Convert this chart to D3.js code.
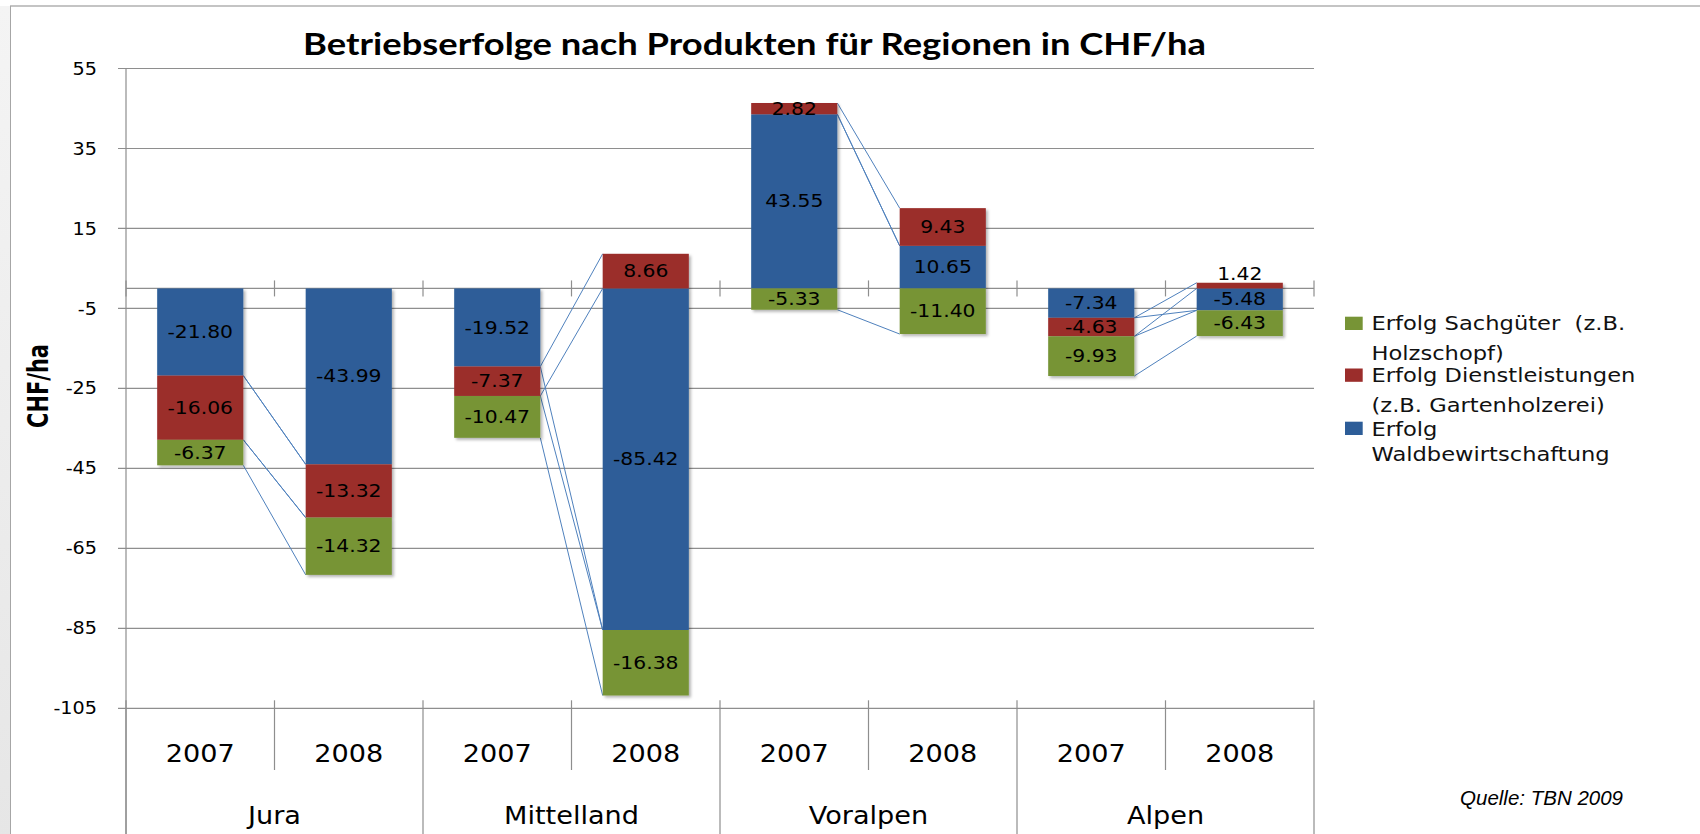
<!DOCTYPE html>
<html lang="de">
<head>
<meta charset="utf-8">
<title>Betriebserfolge nach Produkten für Regionen in CHF/ha</title>
<script src="https://cdn.jsdelivr.net/npm/d3@7"></script>
<style>
  html, body { margin: 0; padding: 0; background: #fff; }
  svg { display: block; }
  text { white-space: pre; }
</style>
</head>
<body>
<script>
// data
const regions = ["Jura", "Mittelland", "Voralpen", "Alpen"];
const years = ["2007", "2008"];
const waldbewirtschaftung = [-21.80, -43.99, -19.52, -85.42, 43.55, 10.65, -7.34, -5.48];
const dienstleistungen    = [-16.06, -13.32, -7.37, 8.66, 2.82, 9.43, -4.63, 1.42];
const sachgueter          = [-6.37, -14.32, -10.47, -16.38, -5.33, -11.40, -9.93, -6.43];
const seriesKeys = ["wald", "dienst", "sach"];
const legendLines = {
  sach: ["Erfolg Sachgüter  (z.B.", "Holzschopf)"],
  dienst: ["Erfolg Dienstleistungen", "(z.B. Gartenholzerei)"],
  wald: ["Erfolg", "Waldbewirtschaftung"]
};
const yTicks = [55, 35, 15, -5, -25, -45, -65, -85, -105];

const colors = { wald: "#2d5d98", dienst: "#9b2d2b", sach: "#779436" };
const gridColor = "#8e8e8e";
const sx = 1.13;   // the reference is stretched horizontally
const W = 1700, H = 834;

// rows for the stack
const rows = [];
regions.forEach((r, ri) => years.forEach((yr, yi) => {
  const i = ri * years.length + yi;
  rows.push({ idx: i, region: r, year: yr,
    wald: waldbewirtschaftung[i], dienst: dienstleistungen[i], sach: sachgueter[i] });
}));

const stacked = d3.stack().keys(seriesKeys).offset(d3.stackOffsetDiverging)(rows);

const x = d3.scaleBand().domain(d3.range(rows.length)).range([126, 1314]);
const y = d3.scaleLinear().domain([-105, 55]).range([708.3, 68.5]);
const barW = x.bandwidth() * 0.58;
const barX = i => x(i) + (x.bandwidth() - barW) / 2;

const svg = d3.select("body").append("svg")
  .attr("width", W).attr("height", H);

const defs = svg.append("defs");
const grad = defs.append("linearGradient").attr("id", "side")
  .attr("x1", 0).attr("y1", 0).attr("x2", 0).attr("y2", 1);
grad.append("stop").attr("offset", 0).attr("stop-color", "#f4f4f4");
grad.append("stop").attr("offset", 1).attr("stop-color", "#e6e6e6");
defs.append("filter").attr("id", "shadow")
  .attr("x", "-10%").attr("y", "-10%").attr("width", "130%").attr("height", "130%")
  .append("feDropShadow").attr("dx", 2).attr("dy", 2)
  .attr("stdDeviation", 1.5).attr("flood-color", "#000").attr("flood-opacity", 0.3);

// slide frame
svg.append("rect").attr("x", 0).attr("y", 6).attr("width", 10).attr("height", H)
  .attr("fill", "url(#side)");
svg.append("line").attr("x1", 10).attr("x2", W).attr("y1", 6).attr("y2", 6)
  .attr("stroke", "#c4c4c4").attr("stroke-width", 2);
svg.append("line").attr("x1", 10.5).attr("x2", 10.5).attr("y1", 6).attr("y2", H)
  .attr("stroke", "#a6a6a6").attr("stroke-width", 1);

// helper: horizontally stretched text
function sText(g, str, tx, ty, size, anchor, extra) {
  const t = g.append("text")
    .attr("transform", `translate(${tx},${ty}) scale(${sx},1)`)
    .attr("text-anchor", anchor || "middle")
    .attr("font-family", "DejaVu Sans, Verdana, sans-serif")
    .attr("font-size", size)
    .attr("fill", "#000")
    .text(str);
  if (extra) extra(t);
  return t;
}

// gridlines + y ticks
const grid = svg.append("g");
yTicks.forEach(v => {
  grid.append("line").attr("x1", 118).attr("x2", 1314)
    .attr("y1", y(v)).attr("y2", y(v))
    .attr("stroke", gridColor).attr("stroke-width", 1.2);
  sText(grid, String(v), 97, y(v), 17, "end", t => t.attr("dominant-baseline", "central"));
});

// vertical axis
svg.append("line").attr("x1", 126).attr("x2", 126).attr("y1", y(55)).attr("y2", H)
  .attr("stroke", gridColor).attr("stroke-width", 1.2);

// zero line with tick marks
const bounds = d3.range(rows.length + 1).map(i => i < rows.length ? x(i) : x.range()[1]);
svg.append("line").attr("x1", 126).attr("x2", 1314).attr("y1", y(0)).attr("y2", y(0))
  .attr("stroke", gridColor).attr("stroke-width", 1.2);
bounds.forEach(b => {
  svg.append("line").attr("x1", b).attr("x2", b).attr("y1", y(0) - 8).attr("y2", y(0) + 8)
    .attr("stroke", gridColor).attr("stroke-width", 1.2);
});

// category axis at the bottom
bounds.forEach((b, i) => {
  const regionEdge = i % years.length === 0;
  svg.append("line").attr("x1", b).attr("x2", b)
    .attr("y1", y(-105) - 8).attr("y2", regionEdge ? H : 770)
    .attr("stroke", gridColor).attr("stroke-width", 1.2);
});
rows.forEach(d => {
  sText(svg, d.year, x(d.idx) + x.bandwidth() / 2, 762, 24);
});
regions.forEach((r, ri) => {
  const cx = x(ri * 2) + x.bandwidth();
  sText(svg, r, cx, 824, 24);
});

// series lines between the two years of each region
const lines = svg.append("g");
stacked.forEach(s => {
  regions.forEach((r, ri) => {
    const a = s[ri * 2], b = s[ri * 2 + 1];
    [0, 1].forEach(k => {
      if (a[k] === 0 && b[k] === 0) return;
      lines.append("line")
        .attr("x1", barX(ri * 2) + barW).attr("y1", y(a[k]))
        .attr("x2", barX(ri * 2 + 1)).attr("y2", y(b[k]))
        .attr("stroke", "#4f81bd").attr("stroke-width", 1);
    });
  });
});

// bars
const bars = svg.append("g");
rows.forEach((d, i) => {
  const g = bars.append("g").attr("filter", "url(#shadow)");
  stacked.forEach(s => {
    const seg = s[i];
    g.append("rect")
      .attr("x", barX(i)).attr("width", barW)
      .attr("y", y(seg[1])).attr("height", y(seg[0]) - y(seg[1]))
      .attr("fill", colors[s.key]);
  });
});

// data labels (plain hyphen minus, as in the source)
const fmt = v => v.toFixed(2);
const labels = svg.append("g");
stacked.forEach(s => {
  rows.forEach((d, i) => {
    const seg = s[i];
    const top = y(seg[1]), bot = y(seg[0]);
    let cy = (top + bot) / 2;
    if (bot - top < 8) cy = top - 9;
    sText(labels, fmt(d[s.key]), x(i) + x.bandwidth() / 2, cy, 18, "middle",
      t => t.attr("dominant-baseline", "central"));
  });
});

// legend (reverse order, like the source)
const legend = svg.append("g");
const legendRows = [
  { key: "sach", top: 316.7, baselines: [330, 359.7] },
  { key: "dienst", top: 368.5, baselines: [382, 411.5] },
  { key: "wald", top: 421.7, baselines: [435.5, 461] }
];
legendRows.forEach(L => {
  legend.append("rect").attr("x", 1345).attr("y", L.top)
    .attr("width", 17.7).attr("height", 13.3).attr("fill", colors[L.key]);
  legendLines[L.key].forEach((txt, j) => {
    sText(legend, txt, 1371.5, L.baselines[j], 20, "start", t => t.attr("fill", "#111"));
  });
});

// title
svg.append("text")
  .attr("x", 303).attr("y", 55)
  .attr("font-family", "Lato, 'Open Sans', sans-serif")
  .attr("font-weight", "bold").attr("font-size", 30)
  .attr("textLength", 903).attr("lengthAdjust", "spacingAndGlyphs")
  .text("Betriebserfolge nach Produkten für Regionen in CHF/ha");

// y axis title
svg.append("text")
  .attr("transform", "translate(48,386) rotate(-90)")
  .attr("text-anchor", "middle")
  .attr("font-family", "'DejaVu Sans Condensed', 'Liberation Sans', sans-serif")
  .attr("font-weight", "bold").attr("font-size", 29)
  .attr("textLength", 84).attr("lengthAdjust", "spacingAndGlyphs")
  .text("CHF/ha");

// source note
svg.append("text")
  .attr("x", 1623).attr("y", 805).attr("text-anchor", "end")
  .attr("font-family", "'Liberation Sans', Arial, sans-serif")
  .attr("font-style", "italic").attr("font-size", 20.5)
  .text("Quelle: TBN 2009");
</script>
</body>
</html>
